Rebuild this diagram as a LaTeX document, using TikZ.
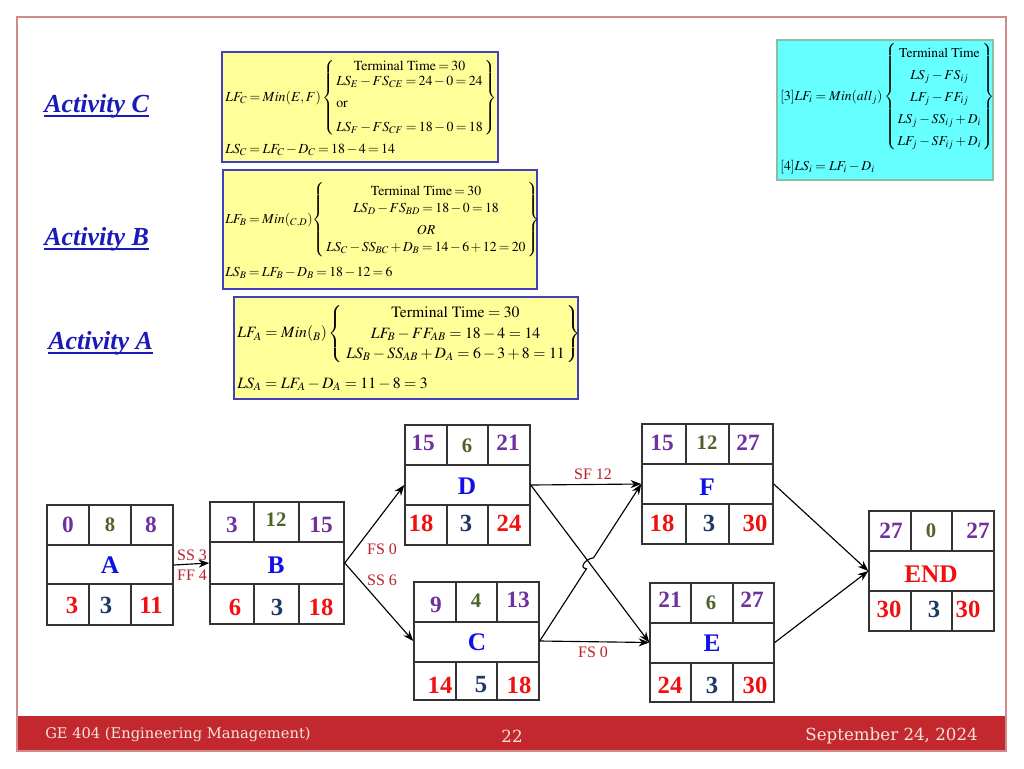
\documentclass[tikz,border=0pt]{standalone}
\usepackage{amsmath}
\usepackage{mathptmx}
\usepackage{fontspec}
\setmainfont{Liberation Serif}
\newfontfamily\footfont{DejaVu Serif}
\usetikzlibrary{arrows.meta,fit,calc}
\definecolor{pur}{HTML}{7030A0}
\definecolor{olv}{HTML}{4F6228}
\definecolor{rd}{HTML}{F01010}
\definecolor{nvy}{HTML}{1F3864}
\definecolor{blu}{HTML}{1010E8}
\definecolor{lnkc}{HTML}{B8202A}
\definecolor{actc}{HTML}{1A1AB8}
\definecolor{fyel}{HTML}{FFFF99}
\definecolor{fbord}{HTML}{4040B8}
\definecolor{fcyan}{HTML}{66FFFF}
\definecolor{cbord}{HTML}{88C0A0}
\definecolor{bordc}{HTML}{333333}
\definecolor{footc}{HTML}{C3282E}
\definecolor{framec}{HTML}{D08A8A}
\definecolor{foottext}{HTML}{F5E6DC}
\newcommand{\lsb}[1]{_{#1}}
\newcommand{\TT}{\mathrm{Terminal\ Time}}
\newcommand{\tightmath}{\thickmuskip=3mu\medmuskip=2mu}
\newcommand{\actgrid}[9]{%
 \node[boxst, fit={(#2,#3) (#4,#5)}] (#1) {};
 \draw[gridst] (#2,#8) -- (#4,#8) (#2,#9) -- (#4,#9)
   (#6,#3) -- (#6,#8) (#7,#3) -- (#7,#8)
   (#6,#9) -- (#6,#5) (#7,#9) -- (#7,#5);
}
\tikzset{
 cell/.style={inner sep=0},
 es/.style={cell, text=pur, font=\bfseries\fontsize{17.5}{18}\selectfont},
 dur/.style={cell, text=olv, font=\bfseries\fontsize{15.5}{16}\selectfont},
 lsv/.style={cell, text=rd, font=\bfseries\fontsize{18.5}{19}\selectfont},
 dn/.style={cell, text=nvy, font=\bfseries\fontsize{18.5}{19}\selectfont},
 nm/.style={cell, text=blu, font=\bfseries\fontsize{19}{19}\selectfont},
 boxst/.style={draw=bordc, line width=1.1pt, inner sep=0, fill=white},
 gridst/.style={draw=bordc, line width=1.1pt},
 arr/.style={draw=black, line width=0.85pt, -{Stealth[length=8pt,width=6pt]}},
 lnk/.style={text=lnkc, font=\fontsize{12}{12}\selectfont, inner sep=0},
 fbox/.style={draw=fbord, line width=1pt, fill=fyel, inner sep=0},
 cbox/.style={draw=cbord, line width=1pt, fill=fcyan, inner sep=0},
 eq/.style={anchor=west, inner sep=0},
 actl/.style={anchor=base west, inner sep=0, text=actc, font=\bfseries\itshape\fontsize{19.5}{20}\selectfont},
 ul/.style={draw=actc, line width=1.3pt},
 foot/.style={inner sep=0, text=foottext},
}
\begin{document}
\begin{tikzpicture}[x=0.75pt,y=-0.75pt]
\useasboundingbox (0,0) rectangle (1024,768);
\fill[white] (0,0) rectangle (1024,768);
% slide frame and footer
\node[fit={(17,716) (1006,751)}, fill=footc, inner sep=0] (footer) {};
\draw[framec, line width=1.1pt] (17,17) rectangle (1006,751);
\node[foot, anchor=west, font=\footfont\fontsize{11}{12}\selectfont] (ft1) at (45,735) {GE 404 (Engineering Management)};
\node[foot, font=\footfont\fontsize{12.5}{13}\selectfont] (ft2) at (512,736) {22};
\node[foot, anchor=east, font=\footfont\fontsize{12.5}{13}\selectfont] (ft3) at (978,736) {September 24, 2024};

% activity labels
\node[actl] (actC) at (44,112) {Activity C};
\draw[ul] ($(actC.base west)+(0,4)$) -- ($(actC.base east)+(0,4)$);
\node[actl] (actB) at (44,245) {Activity B};
\draw[ul] ($(actB.base west)+(0,4)$) -- ($(actB.base east)+(0,4)$);
\node[actl] (actA) at (48,349) {Activity A};
\draw[ul] ($(actA.base west)+(0,4)$) -- ($(actA.base east)+(0,4)$);

% formula box C
\node[fbox, fit={(222,52) (498,162)}] (fC) {};
\node[eq, font=\fontsize{10.4}{12}\selectfont\tightmath] (eqC) at (225,98) {\renewcommand{\arraystretch}{0.95}$LF_C = Min(E,F)\left\{\begin{array}{@{\,}l@{\,}}\multicolumn{1}{@{\,}c@{\,}}{\TT=30}\\ LS_E-FS_{CE}=24-0=24\\[5pt] \mathrm{or}\\[7pt] LS_F-FS_{CF}=18-0=18\end{array}\right\}$};
\node[eq, font=\fontsize{10.4}{12}\selectfont\tightmath] (eqC2) at (225,150) {$LS_C = LF_C - D_C = 18-4=14$};

% formula box B
\node[fbox, fit={(223,170) (537,289)}] (fB) {};
\node[eq, font=\fontsize{10.3}{12.4}\selectfont\tightmath] (eqB) at (225,220) {\renewcommand{\arraystretch}{1.05}$LF\lsb{B} = Min(\lsb{C,D})\!\left\{\begin{array}{@{\,}c@{\,}}\TT=30\\ LS\lsb{D}-FS\lsb{BD}=18-0=18\\[3pt] OR\\ LS\lsb{C}-SS\lsb{BC}+D\lsb{B}=14-6+12=20\end{array}\right\}$};
\node[eq, font=\fontsize{10.3}{12.4}\selectfont\tightmath] (eqB2) at (225,273) {$LS\lsb{B} = LF\lsb{B} - D\lsb{B} = 18-12=6$};

% formula box A
\node[fbox, fit={(234,297) (578,399)}] (fA) {};
\node[eq, font=\fontsize{11.8}{13.2}\selectfont] (eqA) at (237,334) {\renewcommand{\arraystretch}{1.15}$LF\lsb{A} = Min(\lsb{B})\left\{\begin{array}{@{\;}c@{\,}}\TT=30\\ LF\lsb{B}-FF\lsb{AB}=18-4=14\\ LS\lsb{B}-SS\lsb{AB}+D\lsb{A}=6-3+8=11\end{array}\right\}$};
\node[eq, font=\fontsize{11.8}{13.2}\selectfont] (eqA2) at (237,384) {$LS\lsb{A} = LF\lsb{A} - D\lsb{A} = 11-8=3$};

% general formula (cyan)
\node[cbox, fit={(777,40) (993,180)}] (fG) {};
\node[eq, font=\fontsize{10.2}{12.6}\selectfont] (eqG) at (780,97) {\renewcommand{\arraystretch}{1.3}$[3]LF_i = Min(all_j)\left\{\begin{array}{@{\,}c@{\,}}\TT\\ LS_j-FS_{ij}\\ LF_j-FF_{ij}\\ LS_j-SS_{ij}+D_i\\ LF_j-SF_{ij}+D_i\end{array}\right\}$};
\node[eq, font=\fontsize{10.2}{12.6}\selectfont] (eqG2) at (780,167) {$[4]LS_i = LF_i - D_i$};

% activity boxes
\actgrid{A}{47}{505}{173}{625}{89}{131}{545}{584}
\actgrid{B}{210}{502}{344}{624}{254}{299}{542}{584}
\actgrid{D}{405}{425}{530}{545}{447}{488}{465}{505}
\actgrid{C}{414}{582}{539}{700}{456}{497}{622}{662}
\actgrid{F}{642}{424}{773}{544}{686}{729}{464}{504}
\actgrid{E}{650}{583}{774}{702}{691}{733}{623}{663}
\actgrid{END}{869}{511}{994}{631}{911}{952}{551}{591}

% cell texts
\node[es] (A1) at (68,525) {0};
\node[dur] (A2) at (110,525) {8};
\node[es] (A3) at (151,525) {8};
\node[nm] (A4) at (110,565) {A};
\node[lsv] (A5) at (72,605) {3};
\node[dn] (A6) at (106,605) {3};
\node[lsv] (A7) at (151,605) {11};

\node[es] (B1) at (232,525) {3};
\node[dur] (B2) at (276,520) {12};
\node[es] (B3) at (321,525) {15};
\node[nm] (B4) at (276,565) {B};
\node[lsv] (B5) at (235,607) {6};
\node[dn] (B6) at (277,607) {3};
\node[lsv] (B7) at (321,607) {18};

\node[es] (D1) at (423,443) {15};
\node[dur] (D2) at (467,446) {6};
\node[es] (D3) at (508,443) {21};
\node[nm] (D4) at (467,486) {D};
\node[lsv] (D5) at (421,523) {18};
\node[dn] (D6) at (466,523) {3};
\node[lsv] (D7) at (509,523) {24};

\node[es] (C1) at (436,605) {9};
\node[dur] (C2) at (476,601) {4};
\node[es] (C3) at (518,600) {13};
\node[nm] (C4) at (477,642) {C};
\node[lsv] (C5) at (440,685) {14};
\node[dn] (C6) at (481,685) {5};
\node[lsv] (C7) at (519,685) {18};

\node[es] (F1) at (662,443) {15};
\node[dur] (F2) at (707,443) {12};
\node[es] (F3) at (748,443) {27};
\node[nm] (F4) at (707,487) {F};
\node[lsv] (F5) at (662,523) {18};
\node[dn] (F6) at (709,523) {3};
\node[lsv] (F7) at (755,523) {30};

\node[es] (E1) at (670,600) {21};
\node[dur] (E2) at (711,603) {6};
\node[es] (E3) at (752,600) {27};
\node[nm] (E4) at (712,643) {E};
\node[lsv] (E5) at (670,685) {24};
\node[dn] (E6) at (712,685) {3};
\node[lsv] (E7) at (755,685) {30};

\node[es] (N1) at (891,531) {27};
\node[dur] (N2) at (931,531) {0};
\node[es] (N3) at (978,531) {27};
\node[nm, text=rd] (N4) at (931,574) {END};
\node[lsv] (N5) at (889,609) {30};
\node[dn] (N6) at (934,609) {3};
\node[lsv] (N7) at (968,609) {30};

% connectors
\draw[arr] (A.east) -- (B.west);
\draw[arr] (B.east) -- (D.west);
\draw[arr] (B.east) -- (C.west);
\draw[arr] (D.east) -- (F.west);
\draw[arr] (D.east) -- (E.west);
\coordinate (h1) at ($(C.east)!0.46!(F.west)$);
\coordinate (h2) at ($(C.east)!0.53!(F.west)$);
\draw[arr] (C.east) -- (h1) .. controls ($(h1)+(-8,-1)$) and ($(h2)+(-8,1)$) .. (h2) -- (F.west);
\draw[arr] (C.east) -- (E.west);
\draw[arr] (F.east) -- (END.west);
\draw[arr] (E.east) -- (END.west);

% connector labels
\node[lnk] (l1) at (192,555) {SS 3};
\node[lnk] (l2) at (192,575) {FF 4};
\node[lnk] (l3) at (382,549) {FS 0};
\node[lnk] (l4) at (382,580) {SS 6};
\node[lnk] (l5) at (593,474) {SF 12};
\node[lnk] (l6) at (593,652) {FS 0};
\end{tikzpicture}
\end{document}
